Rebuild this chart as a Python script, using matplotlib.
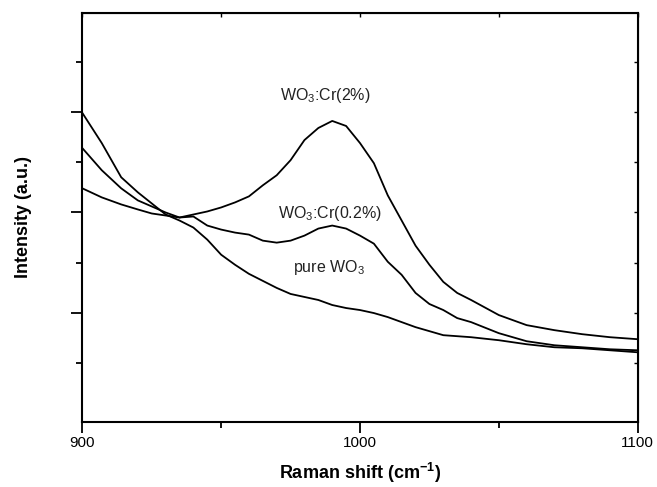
import matplotlib
matplotlib.use("Agg")
import matplotlib.pyplot as plt
from matplotlib.ticker import MultipleLocator, FixedLocator

plt.rcParams['font.family'] = ['Liberation Sans', 'DejaVu Sans']
plt.rcParams['mathtext.default'] = 'regular'

# Raman shift (cm-1)
shift = [900, 907, 914, 920, 925, 930, 935, 940, 945, 950, 955, 960, 965, 970,
         975, 980, 985, 990, 995, 1000, 1005, 1010, 1015, 1020, 1025, 1030,
         1035, 1040, 1050, 1060, 1070, 1080, 1090, 1100]

# intensities (a.u.)
pure_wo3 = [2.99, 2.69, 2.35, 2.20, 2.09, 1.98, 1.92, 1.85, 1.73, 1.58, 1.48,
            1.39, 1.32, 1.25, 1.19, 1.16, 1.13, 1.08, 1.05, 1.03, 1.00, 0.96,
            0.91, 0.86, 0.82, 0.78, 0.77, 0.76, 0.73, 0.69, 0.66, 0.65, 0.63, 0.61]
cr_02 = [2.64, 2.42, 2.24, 2.12, 2.06, 2.00, 1.95, 1.96, 1.87, 1.83, 1.80,
         1.78, 1.72, 1.70, 1.72, 1.77, 1.84, 1.87, 1.84, 1.77, 1.69, 1.51,
         1.38, 1.20, 1.09, 1.03, 0.95, 0.91, 0.80, 0.72, 0.68, 0.66, 0.64, 0.63]
cr_2 = [2.24, 2.15, 2.08, 2.03, 1.99, 1.97, 1.95, 1.98, 2.01, 2.05, 2.10,
        2.16, 2.27, 2.37, 2.52, 2.72, 2.84, 2.91, 2.86, 2.69, 2.49, 2.17,
        1.92, 1.67, 1.48, 1.31, 1.20, 1.13, 0.98, 0.88, 0.83, 0.79, 0.76, 0.74]

fig = plt.figure(figsize=(6.57, 4.87), dpi=100)
ax = fig.add_axes([0.1253, 0.1341, 0.8453, 0.8398])

for y in (pure_wo3, cr_02, cr_2):
    ax.plot(shift, y, color='black', lw=1.3)

ax.text(987.5, 3.16, 'WO$_3$:Cr(2%)', fontsize=11.5, ha='center', va='center', color='#222222')
ax.text(989, 1.99, 'WO$_3$:Cr(0.2%)', fontsize=11.5, ha='center', va='center', color='#222222')
ax.text(989, 1.45, 'pure WO$_3$', fontsize=11.5, ha='center', va='center', color='#222222')

ax.set_xlim(900, 1100)
ax.set_ylim(-0.08, 3.986)
ax.xaxis.set_major_locator(MultipleLocator(100))
ax.xaxis.set_minor_locator(MultipleLocator(50))
ax.yaxis.set_major_locator(FixedLocator([1, 2, 3]))
ax.yaxis.set_minor_locator(FixedLocator([0.5, 1.5, 2.5, 3.5]))
ax.set_yticklabels([])

ax.tick_params(which='major', direction='out', length=8, width=1.3, labelsize=11, pad=2)
ax.tick_params(which='minor', direction='out', length=4, width=1.3)
for sp in ax.spines.values():
    sp.set_linewidth(1.5)

# mirrored inward ticks on top and right
sec_x = ax.secondary_xaxis('top')
sec_x.xaxis.set_major_locator(MultipleLocator(100))
sec_x.xaxis.set_minor_locator(MultipleLocator(50))
sec_x.tick_params(which='both', direction='in', length=3, width=1, labeltop=False)
sec_y = ax.secondary_yaxis('right')
sec_y.yaxis.set_major_locator(FixedLocator([1, 2, 3]))
sec_y.yaxis.set_minor_locator(FixedLocator([0.5, 1.5, 2.5, 3.5]))
sec_y.tick_params(which='both', direction='in', length=3, width=1, labelright=False)

ax.set_xlabel('Raman shift (cm$^{-1}$)', fontsize=13, fontweight='bold', labelpad=8)
ax.set_ylabel('Intensity (a.u.)', fontsize=13, fontweight='bold', labelpad=26)

fig.savefig('out.png', dpi=100)
